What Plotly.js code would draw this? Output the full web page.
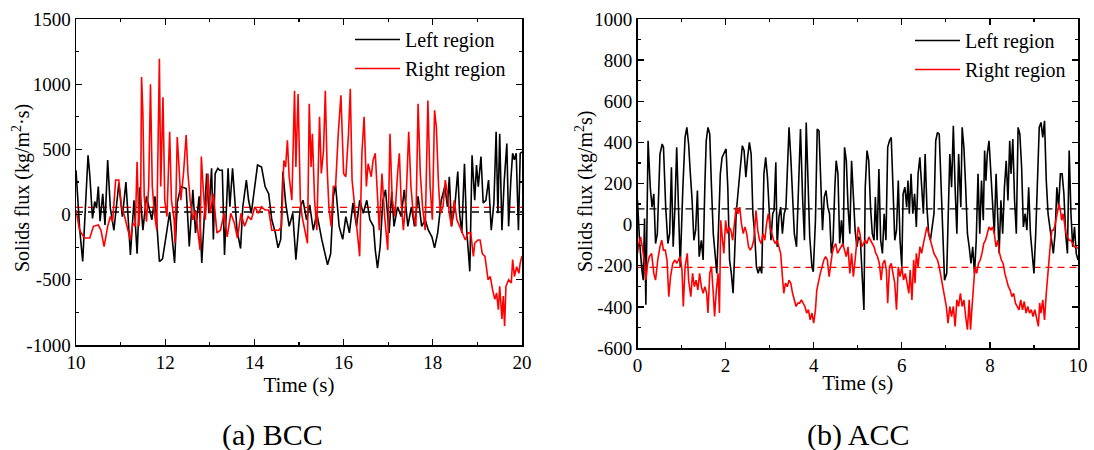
<!DOCTYPE html>
<html><head><meta charset="utf-8">
<script src="https://cdn.plot.ly/plotly-3.0.1.min.js"></script>
<style>html,body{margin:0;padding:0;background:#fff}#chart{width:1094px;height:450px}</style>
</head><body><div id="chart"></div>
<script>
// ---- (a) BCC : Left region (black) ----
const bccLeftT=[10.00,10.08,10.15,10.22,10.27,10.31,10.37,10.42,10.46,10.50,10.54,10.60,10.65,10.71,10.77,10.85,10.96,11.04,11.12,11.22,11.30,11.37,11.43,11.50,11.58,11.70,11.77,11.87,11.94,12.04,12.10,12.21,12.27,12.35,12.47,12.54,12.62,12.68,12.76,12.82,12.93,12.98,13.04,13.08,13.12,13.18,13.22,13.28,13.33,13.41,13.45,13.51,13.61,13.69,13.74,13.82,13.87,13.93,14.07,14.16,14.24,14.32,14.39,14.47,14.53,14.59,14.64,14.70,14.78,14.86,14.93,15.03,15.09,15.17,15.24,15.32,15.40,15.51,15.59,15.64,15.71,15.77,15.82,15.90,15.98,16.05,16.13,16.21,16.29,16.36,16.44,16.52,16.59,16.67,16.71,16.76,16.82,16.88,16.94,17.02,17.08,17.13,17.21,17.29,17.36,17.44,17.52,17.59,17.67,17.75,17.83,17.90,17.98,18.04,18.11,18.19,18.27,18.33,18.37,18.42,18.50,18.56,18.60,18.65,18.71,18.76,18.83,18.88,18.94,18.98,19.02,19.08,19.13,19.19,19.25,19.31,19.37,19.42,19.46,19.50,19.55,19.60,19.66,19.70,19.75,19.79,19.83,19.87,19.92,19.96,20.00];
const bccLeftV=[340,-100,-360,100,455,300,-30,100,50,215,-50,160,-80,418,50,-120,240,-15,250,-310,110,-300,210,-120,140,-40,140,-360,-340,-120,20,-370,90,215,200,-245,190,-140,140,-370,315,10,355,-190,315,355,340,340,-310,355,60,355,-120,-260,60,265,110,10,380,365,215,160,-40,-140,-255,-190,330,90,-90,10,-345,60,110,-40,75,-120,10,-190,-300,-385,-300,140,225,-90,-190,-15,-140,90,-90,110,10,110,-40,-90,-270,-410,-245,110,190,-140,175,-90,60,-15,190,-90,60,-90,140,-90,-40,-120,-170,-255,-140,110,215,60,290,-90,90,330,10,-140,390,-120,-435,455,110,380,215,445,90,110,265,-120,90,635,10,620,-120,250,545,-90,265,470,420,470,-120,470,480];
// ---- (a) BCC : Right region (red) ----
const bccRightT=[10.00,10.08,10.19,10.31,10.39,10.50,10.56,10.63,10.71,10.77,10.82,10.89,10.96,11.02,11.09,11.17,11.22,11.27,11.33,11.37,11.41,11.45,11.47,11.50,11.53,11.58,11.63,11.67,11.71,11.76,11.81,11.87,11.90,11.95,11.99,12.04,12.10,12.14,12.20,12.22,12.27,12.31,12.35,12.41,12.47,12.51,12.56,12.62,12.68,12.78,12.81,12.85,12.90,12.96,13.01,13.08,13.16,13.24,13.32,13.39,13.47,13.55,13.62,13.70,13.78,13.86,13.93,14.01,14.09,14.16,14.24,14.32,14.39,14.47,14.55,14.61,14.66,14.70,14.74,14.78,14.84,14.90,14.93,14.98,15.03,15.07,15.13,15.19,15.23,15.27,15.30,15.35,15.40,15.46,15.50,15.55,15.59,15.63,15.67,15.72,15.77,15.82,15.88,15.94,16.00,16.05,16.11,16.15,16.19,16.25,16.30,16.36,16.41,16.46,16.51,16.55,16.62,16.66,16.71,16.75,16.80,16.86,16.92,16.99,17.04,17.09,17.15,17.21,17.25,17.29,17.34,17.40,17.46,17.51,17.56,17.62,17.67,17.72,17.77,17.83,17.89,17.94,17.99,18.04,18.08,18.13,18.17,18.23,18.28,18.33,18.37,18.42,18.48,18.54,18.60,18.67,18.73,18.79,18.85,18.91,18.94,19.01,19.06,19.11,19.17,19.24,19.29,19.34,19.39,19.43,19.47,19.50,19.55,19.58,19.61,19.64,19.70,19.76,19.79,19.83,19.88,19.93,19.96,20.00];
const bccRightV=[35,-120,-180,-180,-90,-80,-120,-245,-90,-15,-55,265,265,60,-15,-120,-195,-65,-90,405,-90,110,1055,775,140,-55,215,1000,215,10,-120,1195,215,900,110,-15,635,110,-40,-220,595,365,110,315,610,315,110,-40,35,-270,445,215,-40,315,10,160,-140,-120,10,-170,10,-65,-180,10,-90,-15,-40,60,10,60,35,35,-120,-120,-120,-90,415,365,570,290,110,950,365,925,110,-15,-120,-220,850,365,620,110,-120,750,315,495,950,365,60,-90,215,215,620,915,315,290,620,965,265,60,-120,-320,470,750,215,390,290,415,470,215,-120,315,-15,-270,620,110,-15,315,470,110,-120,110,635,215,10,-90,850,315,60,-120,875,215,-40,800,670,215,10,60,265,160,10,-90,110,-40,-90,-140,-195,-140,-140,-320,-220,-195,-195,-300,-320,-500,-475,-575,-650,-600,-730,-550,-800,-625,-855,-550,-500,-525,-345,-475,-400,-450,-370,-320];
// ---- (b) ACC : Left region (black) ----
const accLeftT=[0.00,0.05,0.10,0.13,0.16,0.19,0.24,0.29,0.33,0.37,0.41,0.45,0.51,0.56,0.59,0.64,0.69,0.73,0.77,0.81,0.85,0.89,0.93,0.97,1.03,1.08,1.12,1.16,1.20,1.24,1.28,1.32,1.36,1.40,1.45,1.49,1.53,1.56,1.60,1.64,1.68,1.72,1.76,1.80,1.84,1.88,1.92,1.96,2.01,2.05,2.09,2.13,2.17,2.20,2.24,2.28,2.32,2.38,2.42,2.46,2.50,2.54,2.58,2.62,2.66,2.70,2.74,2.78,2.82,2.87,2.91,2.95,2.99,3.03,3.07,3.10,3.14,3.17,3.21,3.25,3.29,3.33,3.37,3.41,3.44,3.48,3.52,3.56,3.61,3.65,3.70,3.75,3.79,3.83,3.87,3.91,3.96,3.99,4.04,4.08,4.12,4.16,4.20,4.24,4.28,4.32,4.36,4.40,4.44,4.48,4.51,4.55,4.59,4.63,4.67,4.70,4.74,4.78,4.82,4.86,4.90,4.94,4.98,5.02,5.06,5.10,5.14,5.17,5.21,5.25,5.29,5.33,5.37,5.40,5.44,5.48,5.52,5.56,5.60,5.64,5.68,5.72,5.76,5.80,5.84,5.88,5.92,5.96,6.00,6.03,6.07,6.11,6.14,6.17,6.21,6.25,6.29,6.33,6.37,6.41,6.45,6.49,6.53,6.57,6.61,6.65,6.69,6.73,6.77,6.81,6.85,6.89,6.93,6.97,7.02,7.05,7.09,7.13,7.17,7.21,7.25,7.29,7.34,7.37,7.41,7.45,7.49,7.53,7.57,7.61,7.65,7.69,7.73,7.77,7.81,7.85,7.88,7.91,7.94,7.98,8.02,8.06,8.10,8.14,8.18,8.21,8.25,8.29,8.33,8.37,8.41,8.45,8.48,8.52,8.56,8.60,8.64,8.68,8.72,8.76,8.80,8.84,8.88,8.92,8.96,9.00,9.04,9.08,9.12,9.16,9.20,9.24,9.28,9.32,9.36,9.40,9.44,9.48,9.52,9.56,9.60,9.64,9.68,9.72,9.76,9.80,9.84,9.88,9.92,9.96,10.00];
const accLeftV=[118,-92,-220,-270,30,-390,408,182,85,150,-92,-44,343,392,376,85,-92,-44,279,-108,85,376,85,-205,182,424,473,392,247,118,-76,-27,166,-156,-76,-172,198,408,473,440,182,-44,-140,-237,-11,247,327,343,368,182,-172,-237,-334,-172,53,150,247,384,360,231,327,400,343,53,-44,-205,-237,-205,-237,247,327,231,69,-76,53,69,303,-108,37,85,-44,53,85,360,473,327,118,-44,-108,182,465,118,-76,497,182,-60,-205,-229,21,465,456,247,-27,134,166,85,53,-140,-76,182,311,247,-92,21,-108,376,311,85,-44,311,118,-27,-108,-60,-76,-221,-415,182,360,311,85,-44,-76,134,-76,271,-76,-140,53,-76,376,408,424,182,-76,-27,214,-76,-205,150,182,85,214,53,247,53,150,-11,247,327,182,53,343,85,-44,-76,-11,53,408,448,440,182,-108,-270,-237,53,343,182,481,182,-44,343,85,473,376,182,-44,-108,-189,-108,-237,-76,247,-44,214,21,360,214,343,408,247,85,-44,247,-44,-140,118,-44,182,311,118,408,247,416,118,-44,473,440,279,-11,53,-27,182,-44,-140,-237,-44,182,473,497,424,505,214,53,-11,-76,-140,-44,182,85,247,247,150,-44,-140,360,53,-108,-11,-140,-172];
// ---- (b) ACC : Right region (red) ----
const accRightT=[0.00,0.03,0.07,0.11,0.16,0.19,0.23,0.27,0.32,0.37,0.41,0.46,0.51,0.55,0.59,0.63,0.67,0.71,0.75,0.80,0.85,0.89,0.93,0.97,1.01,1.04,1.08,1.13,1.16,1.21,1.25,1.29,1.33,1.37,1.41,1.45,1.49,1.53,1.57,1.60,1.64,1.68,1.72,1.75,1.79,1.83,1.86,1.89,1.93,1.96,2.00,2.04,2.08,2.12,2.16,2.20,2.24,2.28,2.32,2.36,2.40,2.44,2.48,2.52,2.56,2.60,2.64,2.69,2.73,2.77,2.81,2.85,2.89,2.93,2.97,3.01,3.05,3.09,3.13,3.17,3.21,3.25,3.29,3.32,3.36,3.40,3.44,3.48,3.52,3.56,3.60,3.64,3.68,3.72,3.76,3.80,3.84,3.88,3.92,3.96,4.00,4.04,4.07,4.11,4.15,4.19,4.23,4.27,4.31,4.35,4.39,4.42,4.46,4.50,4.54,4.58,4.62,4.66,4.70,4.74,4.78,4.82,4.86,4.90,4.94,4.98,5.01,5.05,5.09,5.13,5.17,5.21,5.25,5.29,5.33,5.37,5.41,5.45,5.49,5.53,5.57,5.61,5.65,5.68,5.72,5.76,5.80,5.84,5.88,5.92,5.96,6.00,6.04,6.08,6.12,6.16,6.19,6.23,6.27,6.30,6.33,6.37,6.41,6.45,6.49,6.53,6.57,6.61,6.65,6.69,6.73,6.77,6.81,6.85,6.89,6.93,6.97,7.01,7.05,7.09,7.13,7.17,7.21,7.25,7.29,7.33,7.37,7.41,7.45,7.49,7.53,7.56,7.59,7.62,7.66,7.70,7.74,7.78,7.82,7.86,7.90,7.94,7.98,8.02,8.06,8.10,8.14,8.18,8.22,8.26,8.30,8.34,8.38,8.42,8.46,8.50,8.54,8.58,8.62,8.66,8.70,8.74,8.78,8.82,8.86,8.90,8.94,8.98,9.02,9.06,9.10,9.13,9.16,9.20,9.24,9.28,9.31,9.34,9.38,9.41,9.44,9.47,9.50,9.54,9.57,9.60,9.63,9.66,9.70,9.73,9.76,9.80,9.84,9.88,9.92,9.96,10.00];
const accRightV=[-140,-92,-60,-108,-189,-270,-189,-156,-140,-237,-270,-172,-108,-76,-124,-124,-172,-350,-253,-189,-172,-189,-172,-156,-221,-398,-205,-140,-270,-350,-237,-302,-270,-318,-237,-302,-334,-302,-334,-430,-237,-205,-334,-447,-318,-237,-430,21,-76,-140,21,-44,-11,-27,-76,21,85,53,85,5,-44,-11,-44,-108,-124,-108,-76,69,-27,-76,-92,-44,-76,5,53,-11,-44,-76,-92,-76,-108,-140,-253,-334,-285,-302,-270,-285,-334,-366,-398,-382,-382,-366,-382,-398,-430,-414,-463,-430,-479,-414,-318,-270,-237,-205,-172,-156,-172,-253,-172,-140,-108,-92,-140,-124,-108,-92,-124,-156,-108,-237,-140,-253,-172,-76,-11,-44,-108,-92,-76,-92,-60,-76,-92,-108,-140,-156,-189,-270,-189,-172,-221,-382,-205,-189,-237,-285,-414,-205,-253,-205,-270,-237,-285,-334,-221,-366,-172,-285,-140,-205,-108,-140,-92,-44,-11,-44,-76,-108,-140,-156,-172,-205,-253,-318,-350,-398,-479,-398,-447,-398,-495,-366,-398,-334,-398,-366,-447,-511,-366,-511,-414,-302,-205,-237,-189,-172,-140,-92,-76,-44,-11,-27,-11,-44,-108,-76,-140,-172,-189,-237,-270,-302,-318,-350,-334,-382,-398,-414,-366,-414,-374,-430,-398,-430,-414,-447,-414,-463,-495,-382,-430,-366,-463,-334,-253,-140,-76,-27,-27,-11,21,53,101,69,21,53,-11,-44,-60,-76,-76,-92,-108,-108,-116];
// ---- time-averaged fluxes (dashed lines) ----
const bccRange=[10,20], accRange=[0,10];
const bccMeanLeft=20, bccMeanRight=55;
const accMeanLeft=77, accMeanRight=-208;
// ---- tick labels ----
const bccXTicks=[10,12,14,16,18,20];
const bccXLabels=["10","12","14","16","18","20"];
const bccYTicks=[-1000,-500,0,500,1000,1500];
const bccYLabels=["-1000","-500","0","500","1000","1500"];
const accXTicks=[0,2,4,6,8,10];
const accXLabels=["0","2","4","6","8","10"];
const accYTicks=[-600,-400,-200,0,200,400,600,800,1000];
const accYLabels=["-600","-400","-200","0","200","400","600","800","1000"];
const seriesNames=["Left region","Right region"];
const yTitles=["Solids flux (kg/m<sup>2</sup>·s)","Solids flux (kg/m<sup>2</sup>s)"];
const captions=["(a) BCC","(b) ACC"];

const FONT="Liberation Serif";
const BLACK="#000000", RED="#ff0000";

function line(x,y,color,name,xa,ya,leg,show){
  return {type:"scatter",mode:"lines",x:x,y:y,name:name,xaxis:xa,yaxis:ya,legend:leg,showlegend:show,
    line:{color:color,width:1.6},hoverinfo:"skip"};
}
function dash(x,m,color,xa,ya){
  return {type:"scatter",mode:"lines",x:x,y:[m,m],xaxis:xa,yaxis:ya,showlegend:false,
    line:{color:color,width:1.3,dash:"7px,5px"},hoverinfo:"skip"};
}
const data=[
  dash(bccRange,bccMeanLeft,BLACK,"x","y"),
  dash(bccRange,bccMeanRight,RED,"x","y"),
  line(bccLeftT,bccLeftV,BLACK,seriesNames[0],"x","y","legend",true),
  line(bccRightT,bccRightV,RED,seriesNames[1],"x","y","legend",true),
  dash(accRange,accMeanLeft,BLACK,"x2","y2"),
  dash(accRange,accMeanRight,RED,"x2","y2"),
  line(accLeftT,accLeftV,BLACK,seriesNames[0],"x2","y2","legend2",true),
  line(accRightT,accRightV,RED,seriesNames[1],"x2","y2","legend2",true)
];
function ax(extra){
  return Object.assign({showline:true,linecolor:"#000",linewidth:1.5,mirror:"allticks",
    ticks:"inside",ticklen:6,tickwidth:1.3,tickcolor:"#000",showgrid:false,zeroline:false,
    tickmode:"array",
    tickfont:{family:FONT,size:19,color:"#000"},automargin:false,fixedrange:true},extra);
}
const W=1094,H=450;
const TF={family:FONT,size:20,color:"#000"};
const layout={
  width:W,height:H,margin:{l:0,r:0,t:0,b:0},paper_bgcolor:"#fff",plot_bgcolor:"#fff",
  font:{family:FONT,color:"#000"},
  xaxis:ax({domain:[76/W,522/W],range:bccRange,tickvals:bccXTicks,ticktext:bccXLabels,anchor:"y",
    minor:{ticks:"inside",ticklen:3,tick0:10,dtick:1,tickcolor:"#000",showgrid:false},
    title:{text:"Time (s)",font:{family:FONT,size:21,color:"#000"},standoff:0}}),
  yaxis:ax({domain:[1-345/H,1-19/H],range:[-1000,1500],tickvals:bccYTicks,ticktext:bccYLabels,anchor:"x",
    minor:{ticks:"inside",ticklen:3,tick0:0,dtick:250,tickcolor:"#000",showgrid:false}}),
  xaxis2:ax({domain:[637.5/W,1078/W],range:accRange,tickvals:accXTicks,ticktext:accXLabels,anchor:"y2",
    minor:{ticks:"inside",ticklen:3,tick0:0,dtick:1,tickcolor:"#000",showgrid:false},
    title:{text:"Time (s)",font:{family:FONT,size:21,color:"#000"},standoff:0}}),
  yaxis2:ax({domain:[1-348/H,1-19/H],range:[-600,1000],tickvals:accYTicks,ticktext:accYLabels,anchor:"x2",
    minor:{ticks:"inside",ticklen:3,tick0:0,dtick:100,tickcolor:"#000",showgrid:false}}),
  legend:{x:350/W,y:1-20/H,xanchor:"left",yanchor:"top",bgcolor:"rgba(0,0,0,0)",borderwidth:0,
    font:TF,itemwidth:45,tracegroupgap:0},
  legend2:{x:910/W,y:1-21/H,xanchor:"left",yanchor:"top",bgcolor:"rgba(0,0,0,0)",borderwidth:0,
    font:TF,itemwidth:45,tracegroupgap:0},
  annotations:[
    {text:yTitles[0],textangle:-90,xref:"paper",yref:"paper",x:21/W,y:1-188/H,xanchor:"center",yanchor:"middle",showarrow:false,font:TF},
    {text:yTitles[1],textangle:-90,xref:"paper",yref:"paper",x:584/W,y:1-192/H,xanchor:"center",yanchor:"middle",showarrow:false,font:TF},
    {text:captions[0],xref:"paper",yref:"paper",x:272/W,y:1-435/H,xanchor:"center",yanchor:"middle",showarrow:false,font:{family:FONT,size:30,color:"#000"}},
    {text:captions[1],xref:"paper",yref:"paper",x:858/W,y:1-435/H,xanchor:"center",yanchor:"middle",showarrow:false,font:{family:FONT,size:30,color:"#000"}}
  ]
};
Plotly.newPlot("chart",data,layout,{displayModeBar:false,staticPlot:true});
</script></body></html>
